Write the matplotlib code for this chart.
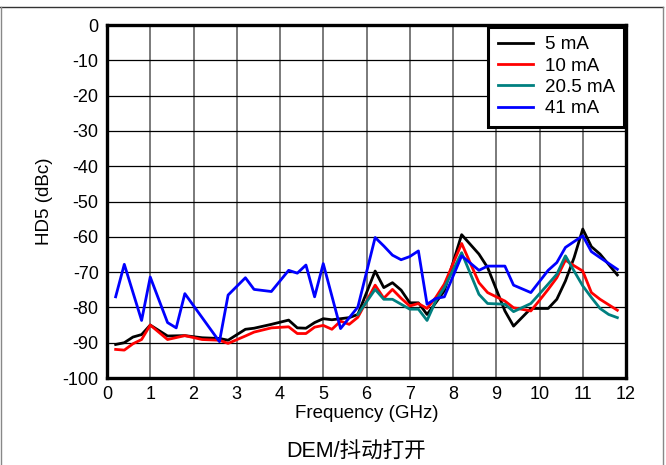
import matplotlib
matplotlib.use("Agg")
import matplotlib.pyplot as plt
from matplotlib.lines import Line2D

plt.rcParams['font.family'] = ['Liberation Sans', 'Noto Sans CJK SC', 'DejaVu Sans']
plt.rcParams['axes.unicode_minus'] = False

# shared frequency grid for 5 mA and 10 mA (GHz)
freq = [0.2, 0.4, 0.6, 0.8, 1.0, 1.4, 1.8, 2.2, 2.6, 2.8, 3.2, 3.4, 3.8, 4.2, 4.4,
        4.6, 4.8, 5.0, 5.2, 5.4, 5.6, 5.8, 6.2, 6.4, 6.6, 6.8, 7.0, 7.2, 7.4, 7.6,
        7.8, 8.2, 8.6, 8.8, 9.2, 9.4, 9.8, 10.0, 10.2, 10.4, 10.6, 10.8, 11.0, 11.2,
        11.4, 11.8]
hd5_5ma = [-90.5, -90.0, -88.4, -87.7, -85.0, -88.1, -88.0, -88.6, -88.8, -89.3,
           -86.2, -85.9, -84.8, -83.6, -85.8, -85.9, -84.3, -83.2, -83.5, -83.2,
           -82.9, -82.0, -69.7, -74.4, -73.0, -75.1, -78.7, -78.7, -82.0, -78.7,
           -75.3, -59.4, -64.9, -68.7, -81.0, -85.3, -80.3, -80.3, -80.3, -77.7,
           -72.5, -65.9, -57.8, -62.8, -64.9, -70.8]
hd5_10ma = [-91.9, -92.1, -90.3, -89.1, -85.0, -89.1, -88.0, -89.1, -89.3, -90.2,
            -88.1, -87.0, -85.8, -85.5, -87.4, -87.4, -85.6, -85.1, -86.2, -83.9,
            -84.8, -82.8, -73.7, -77.4, -74.9, -77.4, -79.6, -78.9, -80.3, -77.2,
            -73.4, -61.9, -73.0, -75.8, -78.2, -80.1, -81.0, -78.0, -74.9, -71.6,
            -66.6, -68.2, -69.7, -75.8, -77.7, -80.8]

freq_20ma = [5.8, 6.2, 6.4, 6.6, 6.8, 7.0, 7.2, 7.4, 7.6, 7.8, 8.2, 8.6, 8.8, 9.2,
             9.4, 9.8, 10.2, 10.4, 10.6, 10.8, 11.0, 11.2, 11.4, 11.6, 11.8]
hd5_20ma = [-82.0, -74.9, -77.7, -77.7, -79.1, -80.5, -80.5, -83.7, -78.2, -74.4,
            -64.5, -76.3, -78.9, -79.1, -81.2, -78.9, -73.4, -70.6, -65.4, -69.7,
            -73.9, -77.2, -80.3, -82.0, -82.9]

freq_41ma = [0.2, 0.4, 0.8, 1.0, 1.4, 1.6, 1.8, 2.6, 2.8, 3.2, 3.4, 3.8, 4.2, 4.4,
             4.6, 4.8, 5.0, 5.4, 5.8, 6.2, 6.4, 6.6, 6.8, 7.0, 7.2, 7.4, 7.6, 7.8,
             8.2, 8.6, 8.8, 9.2, 9.4, 9.8, 10.2, 10.4, 10.6, 11.0, 11.2, 11.4, 11.8]
hd5_41ma = [-77.0, -67.8, -83.7, -71.4, -84.3, -85.8, -76.1, -89.7, -76.5, -71.6,
            -74.9, -75.5, -69.5, -70.3, -68.0, -77.0, -67.6, -86.0, -79.9, -60.2,
            -62.6, -65.2, -66.5, -65.6, -64.0, -79.1, -77.5, -77.0, -65.4, -69.5,
            -68.3, -68.3, -73.7, -75.8, -69.5, -67.3, -63.0, -59.7, -64.2, -65.9,
            -69.2]

fig = plt.figure(figsize=(6.66, 4.65), dpi=100)
ax = fig.add_axes([107 / 666, 1 - 378 / 465, (626 - 107) / 666, (378 - 25) / 465])

ax.plot(freq, hd5_5ma, color='black', lw=2, label='5 mA', zorder=4)
ax.plot(freq, hd5_10ma, color='#ff0000', lw=2, label='10 mA', zorder=4)
ax.plot(freq_20ma, hd5_20ma, color='#008080', lw=2, label='20.5 mA', zorder=4)
ax.plot(freq_41ma, hd5_41ma, color='#0000ff', lw=2, label='41 mA', zorder=4)

ax.set_xlim(0, 12)
ax.set_ylim(-100, 0)
ax.set_xticks(range(0, 13))
ax.set_yticks(range(-100, 1, 10))
ax.tick_params(length=0, labelsize=13, pad=6)
ax.xaxis.grid(True, color='#707070', lw=1.3)
ax.yaxis.grid(True, color='black', lw=0.9)
for s in ax.spines.values():
    s.set_linewidth(2.4)
    s.set_color('black')

ax.set_xlabel('Frequency (GHz)', fontsize=13.5, labelpad=1)
ax.set_ylabel('HD5 (dBc)', fontsize=13.5, labelpad=7)

leg = ax.legend(loc='upper right', fontsize=13.5, fancybox=False, framealpha=1,
                edgecolor='black', borderaxespad=0.1, handlelength=1.9,
                handletextpad=0.6, labelspacing=0.22, borderpad=0.5)
leg.get_frame().set_linewidth(2.2)
for h in leg.get_lines():
    h.set_linewidth(2)

fig.text(356 / 666, 1 - 452 / 465, 'DEM/抖动打开', fontsize=15.5,
         ha='center', va='center')

# outer frame around the figure
fig.add_artist(Line2D([0, 663 / 666], [1 - 7 / 465, 1 - 7 / 465],
                      transform=fig.transFigure, color='#333333', lw=1))
fig.add_artist(Line2D([1 / 666, 1 / 666], [0, 1 - 7 / 465],
                      transform=fig.transFigure, color='#888888', lw=1))
fig.add_artist(Line2D([663 / 666, 663 / 666], [0, 1 - 7 / 465],
                      transform=fig.transFigure, color='#888888', lw=1))

fig.savefig('out.png', dpi=100)
